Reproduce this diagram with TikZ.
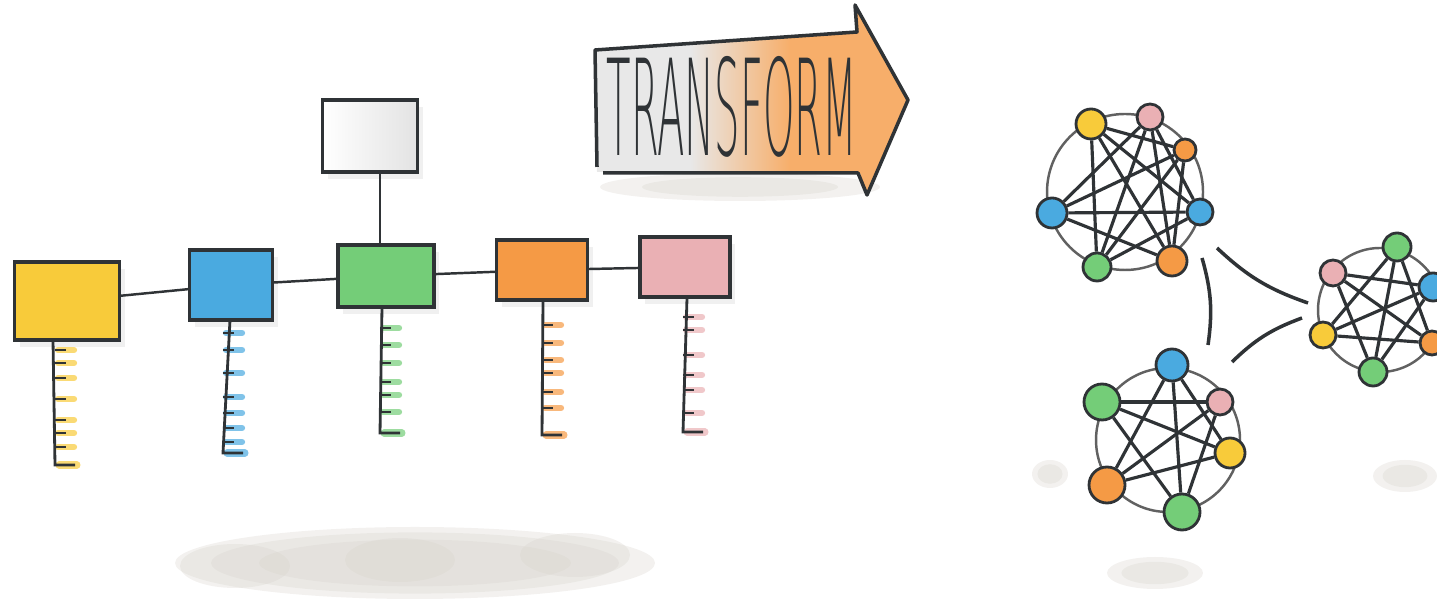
\documentclass[tikz,border=0pt]{standalone}
\usepackage{fontspec}
\IfFontExistsTF{DejaVuSans-ExtraLight.ttf}
  {\newfontfamily\handfont{DejaVuSans-ExtraLight.ttf}}
  {\IfFontExistsTF{DejaVu Sans ExtraLight}
    {\newfontfamily\handfont{DejaVu Sans ExtraLight}}
    {\newfontfamily\handfont{DejaVu Sans}}}
\usetikzlibrary{positioning, shadows, backgrounds}

\definecolor{wYel}{HTML}{F8CB3A}
\definecolor{wBlu}{HTML}{4AAAE0}
\definecolor{wGrn}{HTML}{74CD78}
\definecolor{wOrg}{HTML}{F59A45}
\definecolor{wPnk}{HTML}{EAB0B4}
\definecolor{wInk}{HTML}{2F3336}
\definecolor{wWash}{HTML}{D6D2CB}

\begin{document}
\begin{tikzpicture}[
    x=0.1mm, y=-0.1mm,
    card/.style={draw=wInk, line width=0.9pt, inner sep=0pt,
      drop shadow={shadow xshift=1.5pt, shadow yshift=-2pt, opacity=.12}},
    link/.style={draw=wInk, line width=0.7pt},
    tick/.style={draw=wInk, line width=0.8pt},
    dot/.style={circle, draw=wInk, line width=0.8pt, inner sep=0pt},
    mesh/.style={draw=wInk, line width=0.9pt},
    ring/.style={draw=black!62, line width=0.7pt},
    wash/.style={fill=wWash, opacity=.3}
  ]
  \useasboundingbox (0,0) rectangle (1437,607);

  % soft grey washes
  \foreach \s in {1,.85,.65}
    \fill[wash] (415,563) ellipse ({240*\s} and {36*\s});
  \foreach \x/\y in {235/566, 400/560, 575/555}
    \fill[wash] (\x,\y) ellipse (55 and 22);
  \foreach \x/\y/\a/\b in {1050/474/18/14, 1405/476/32/16, 1155/573/48/16, 740/187/140/14}
    \foreach \s in {1,.7}
      \fill[wash] (\x,\y) ellipse ({\a*\s} and {\b*\s});

  % org chart
  \foreach \n/\c/\x/\y/\w/\h in {
      ybox/wYel/67/301/105/78, bbox/wBlu/231/285/83/70, gbox/wGrn/386/276/96/62,
      obox/wOrg/542/270/91/60, pbox/wPnk/685/267/90/60} {
    \node[card, fill=\c, minimum width=\w*0.1mm, minimum height=\h*0.1mm] (\n) at (\x,\y) {};
  }
  \node[card, left color=white, right color=gray!22, minimum width=9.5mm, minimum height=7.2mm] (top) at (370,136) {};

  \foreach \a/\b in {ybox/bbox, bbox/gbox, gbox/obox, obox/pbox}
    \draw[link] (\a) -- (\b);
  \coordinate (stem) at ([xshift=1mm]top.south);
  \draw[link] (stem) -- (stem |- gbox.north);

  \foreach \c/\xt/\yt/\xb/\yb/\ts in {
      wYel/53/340/55/465/{350,363,378,399,420,433,447},
      wBlu/230/320/223/453/{333,350,373,397,413,428,442},
      wGrn/382/307/380/433/{328,345,363,382,395,412},
      wOrg/543/300/542/435/{325,343,360,373,392,408},
      wPnk/687/298/683/432/{317,330,355,375,390,413}} {
    \foreach \t in \ts
      \draw[\c, line width=1.8pt, opacity=.7, line cap=round] (\xb+3,\t) -- ++(16,0);
    \draw[\c, line width=2pt, opacity=.7, line cap=round] (\xb+4,\yb) -- ++(18,0);
    \foreach \t in \ts
      \draw[tick] (\xb,\t) -- ++(11,0);
    \draw[tick] (\xt,\yt) -- (\xb,\yb) -- ++(20,0);
  }

  % transform arrow
  \begin{scope}
    \clip (597,172) -- (595,50) -- (857,32) -- (855,5) -- (908,100) -- (867,195) -- (860,173) -- cycle;
    \fill[gray!18] (580,0) rectangle (690,210);
    \shade[left color=gray!18, right color=wOrg!80] (690,0) rectangle (790,210);
    \fill[wOrg!80] (790,0) rectangle (920,210);
  \end{scope}
  \draw[tick, line width=1pt, line join=round]
    (597,167) -- (595,50) -- (857,32) -- (855,5) -- (908,100) -- (867,195) -- (858,173) -- (603,173);
  \node[text=wInk, font=\handfont\fontsize{38}{38}\selectfont] (word) at (732,107)
    {\scalebox{0.30}[1]{TRANSFORM}};

  % networks
  \coordinate (Ac) at (1125,192);
  \coordinate (Bc) at (1380,310);
  \coordinate (Cc) at (1168,440);
  \draw[ring] (Ac) circle (78);
  \draw[ring] (Bc) circle (62);
  \draw[ring] (Cc) circle (72);

  \foreach \n/\c/\x/\y/\r in {
      A1/wYel/1091/124/15, A2/wPnk/1150/117/13, A3/wOrg/1185/150/11, A4/wBlu/1200/212/13,
      A5/wOrg/1172/261/15, A6/wGrn/1097/267/14, A7/wBlu/1052/213/15,
      B1/wGrn/1397/247/14, B2/wBlu/1433/287/14, B3/wOrg/1432/343/12,
      B4/wGrn/1373/372/14, B5/wYel/1323/335/13, B6/wPnk/1333/273/13,
      C1/wBlu/1172/365/16, C2/wPnk/1220/402/13, C3/wYel/1230/453/15,
      C4/wGrn/1182/512/18, C5/wOrg/1107/485/18, C6/wGrn/1102/402/18}
    \node[dot, fill=\c, minimum size=\r*0.2mm] (\n) at (\x,\y) {};

  % every pair that is not next to each other on the ring
  \foreach \k/\m in {A/7, B/6, C/6} {
    \foreach \i in {1,...,\m} {
      \foreach \j in {\i,...,\m} {
        \pgfmathtruncatemacro\gap{\j-\i}
        \ifnum\gap>1 \ifnum\gap<\numexpr\m-1\relax
          \draw[mesh] (\k\i) -- (\k\j);
        \fi\fi
      }
    }
  }

  \coordinate (ab1) at (1217,248);
  \coordinate (ab2) at (1308,303);
  \coordinate (ac1) at (1202,258);
  \coordinate (ac2) at (1208,345);
  \coordinate (cb1) at (1232,362);
  \coordinate (cb2) at (1302,318);
  \draw[mesh, line width=1pt] (ab1) to[bend right=12] (ab2);
  \draw[mesh, line width=1pt] (ac1) to[bend left=12] (ac2);
  \draw[mesh, line width=1pt] (cb1) to[bend left=12] (cb2);
\end{tikzpicture}
\end{document}
